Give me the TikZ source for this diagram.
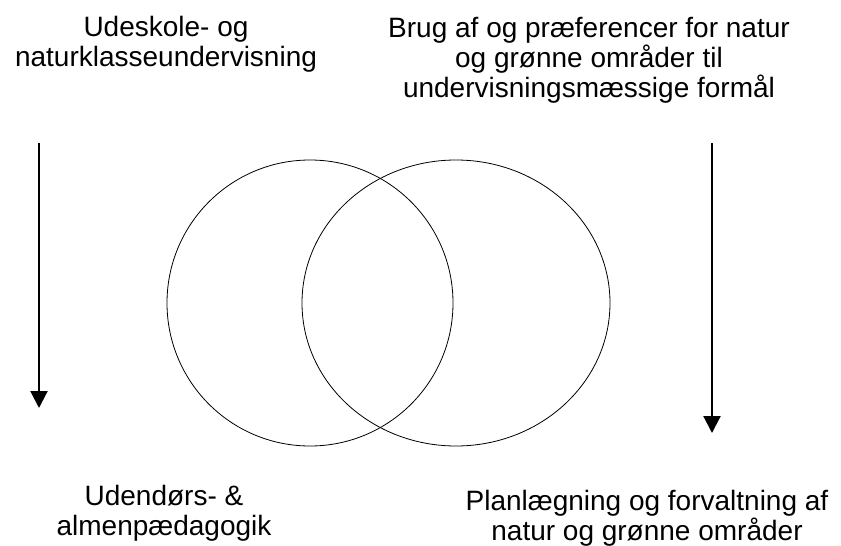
\documentclass[tikz,border=0pt]{standalone}
\usepackage{fontspec}
\setmainfont{Liberation Sans}
\usetikzlibrary{arrows.meta,shapes.geometric}
\newcommand\tlines[1]{\vtop{\halign{\hfil##\hfil\cr#1\crcr}}}
\tikzset{
  lbl/.style={inner sep=0pt, anchor=base, font=\fontsize{28}{30}\selectfont},
  ring/.style={ellipse, draw, line width=0.8pt, inner sep=0pt},
  arr/.style={line width=2.2pt, -{Triangle[width=17pt,length=17pt]}}
}
\begin{document}
\begin{tikzpicture}[x=1pt,y=-1pt]
\useasboundingbox (0,0) rectangle (841,546);
% texts
\node[lbl] (t1) at (166,36) {\tlines{Udeskole- og\cr naturklasseundervisning}};
\node[lbl] (t2) at (589,37) {\tlines{Brug af og præferencer for natur\cr og grønne områder til\cr undervisningsmæssige formål}};
\node[lbl] (t3) at (164,505) {\tlines{Udendørs- \&\cr almenpædagogik}};
\node[lbl] (t4) at (647,510) {\tlines{Planlægning og forvaltning af\cr natur og grønne områder}};
% circles
\node[ring, minimum width=286pt, minimum height=286pt] (c1) at (310,303) {};
\node[ring, minimum width=308pt, minimum height=286pt] (c2) at (456,303) {};
% arrows
\coordinate (la1) at (39,143);
\coordinate (la2) at (39,408);
\coordinate (ra1) at (712,143);
\coordinate (ra2) at (712,433);
\draw[arr] (la1) -- (la2);
\draw[arr] (ra1) -- (ra2);
\end{tikzpicture}
\end{document}
